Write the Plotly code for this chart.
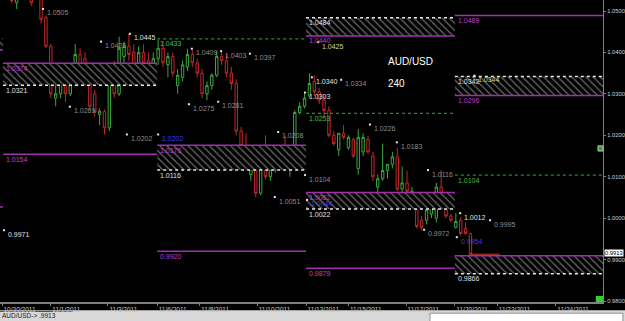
import plotly.graph_objects as go

# ---------------- data ----------------
opens = [1.0560, 1.0550, 1.0545, 1.0520, 1.0540, 1.0555, 1.0545, 1.0540, 1.0530, 1.0485,
         1.0415, 1.0290, 1.0300, 1.0330, 1.0300, 1.0335, 1.0395, 1.0385, 1.0330, 1.0300,
         1.0250, 1.0257, 1.0218, 1.0365, 1.0300, 1.0390, 1.0415, 1.0400, 1.0365, 1.0400,
         1.0380, 1.0350, 1.0385, 1.0410, 1.0370, 1.0390, 1.0320, 1.0340, 1.0365, 1.0395,
         1.0375, 1.0350, 1.0300, 1.0320, 1.0345, 1.0390, 1.0380, 1.0350, 1.0325, 1.0210,
         1.0165, 1.0105, 1.0130, 1.0060, 1.0150, 1.0100, 1.0118, 1.0140, 1.0155, 1.0125,
         1.0135, 1.0255, 1.0270, 1.0295, 1.0330, 1.0305, 1.0285, 1.0260, 1.0200, 1.0165,
         1.0205, 1.0170, 1.0190, 1.0120, 1.0160, 1.0190, 1.0150, 1.0075, 1.0095, 1.0115,
         1.0130, 1.0148, 1.0070, 1.0085, 1.0040, 1.0020, 0.9995, 0.9995, 1.0010, 1.0000,
         1.0075, 1.0025, 1.0005, 0.9978, 0.9995, 0.9975, 0.9963]
highs = [1.0575, 1.0565, 1.0555, 1.0550, 1.0565, 1.0570, 1.0550, 1.0548, 1.0535, 1.0490,
         1.0420, 1.0350, 1.0355, 1.0340, 1.0345, 1.0420, 1.0410, 1.0400, 1.0345, 1.0310,
         1.0265, 1.0262, 1.0365, 1.0380, 1.0438, 1.0426, 1.0445, 1.0420, 1.0415, 1.0420,
         1.0400, 1.0400, 1.0430, 1.0428, 1.0400, 1.0400, 1.0360, 1.0380, 1.0409, 1.0405,
         1.0385, 1.0360, 1.0330, 1.0350, 1.0403, 1.0400, 1.0395, 1.0365, 1.0335, 1.0220,
         1.0205, 1.0140, 1.0140, 1.0160, 1.0200, 1.0125, 1.0150, 1.0165, 1.0200, 1.0140,
         1.0260, 1.0280, 1.0300, 1.0350, 1.0345, 1.0315, 1.0295, 1.0270, 1.0210, 1.0205,
         1.0225, 1.0200, 1.0195, 1.0215, 1.0205, 1.0198, 1.0160, 1.0105, 1.0180, 1.0130,
         1.0160, 1.0170, 1.0125, 1.0115, 1.0075, 1.0025, 1.0005, 1.0030, 1.0045, 1.0085,
         1.0116, 1.0030, 1.0010, 1.0012, 1.0003, 0.9990, 0.9965]
lows = [1.0540, 1.0535, 1.0518, 1.0505, 1.0530, 1.0535, 1.0512, 1.0528, 1.0470, 1.0410,
        1.0290, 1.0270, 1.0290, 1.0280, 1.0295, 1.0320, 1.0330, 1.0320, 1.0260, 1.0245,
        1.0225, 1.0202, 1.0210, 1.0290, 1.0295, 1.0370, 1.0380, 1.0350, 1.0350, 1.0360,
        1.0330, 1.0340, 1.0370, 1.0365, 1.0340, 1.0340, 1.0300, 1.0330, 1.0355, 1.0365,
        1.0340, 1.0290, 1.0285, 1.0310, 1.0340, 1.0370, 1.0340, 1.0310, 1.0200, 1.0160,
        1.0118, 1.0090, 1.0050, 1.0055, 1.0095, 1.0090, 1.0110, 1.0130, 1.0115, 1.0100,
        1.0130, 1.0250, 1.0265, 1.0290, 1.0295, 1.0275, 1.0245, 1.0195, 1.0175, 1.0150,
        1.0190, 1.0165, 1.0145, 1.0105, 1.0150, 1.0155, 1.0090, 1.0060, 1.0090, 1.0095,
        1.0120, 1.0065, 1.0060, 1.0060, 1.0030, 0.9975, 0.9970, 0.9985, 1.0000, 0.9990,
        1.0020, 1.0000, 0.9990, 0.9975, 0.9958, 0.9960, 0.9910]
closes = [1.0550, 1.0545, 1.0525, 1.0540, 1.0555, 1.0545, 1.0520, 1.0532, 1.0480, 1.0415,
          1.0300, 1.0300, 1.0335, 1.0300, 1.0335, 1.0395, 1.0350, 1.0330, 1.0270, 1.0255,
          1.0258, 1.0218, 1.0358, 1.0300, 1.0410, 1.0415, 1.0395, 1.0365, 1.0400, 1.0375,
          1.0350, 1.0385, 1.0410, 1.0375, 1.0390, 1.0350, 1.0345, 1.0370, 1.0395, 1.0375,
          1.0350, 1.0300, 1.0320, 1.0345, 1.0390, 1.0380, 1.0350, 1.0325, 1.0210, 1.0175,
          1.0125, 1.0130, 1.0060, 1.0150, 1.0100, 1.0118, 1.0145, 1.0155, 1.0125, 1.0135,
          1.0255, 1.0270, 1.0290, 1.0325, 1.0305, 1.0285, 1.0260, 1.0200, 1.0180, 1.0205,
          1.0195, 1.0195, 1.0150, 1.0195, 1.0195, 1.0160, 1.0100, 1.0095, 1.0115, 1.0130,
          1.0148, 1.0070, 1.0085, 1.0065, 1.0065, 0.9980, 0.9978, 1.0020, 1.0045, 1.0075,
          1.0025, 1.0005, 0.9995, 0.9992, 0.9963, 0.9963, 0.9913]
bar_index = list(range(len(opens)))

# date ticks (bar index where each date label sits)
date_ticks = [0, 10, 21.7, 31.8, 40.5, 52.3, 62.3, 71, 82.8, 92.8, 101.5, 113.5]
date_labels = ["10/30/2011", "11/1/2011", "11/3/2011", "11/6/2011", "11/8/2011", "11/10/2011",
               "11/13/2011", "11/15/2011", "11/17/2011", "11/20/2011", "11/22/2011", "11/24/2011"]
price_ticks = [0.98, 0.99, 1.00, 1.01, 1.02, 1.03, 1.04, 1.05]

# weekly periods (bar index of period starts; last is open-ended)
week_bounds = [-1.0, 0.2, 31.8, 62.3, 92.8, 124.0]

# hatched zones
zone_week = [0, 1, 2, 3, 3, 4, 4]
zone_low = [1.0406, 1.0321, 1.0116, 1.0440, 1.0022, 1.0296, 0.9866]
zone_high = [1.0435, 1.0374, 1.0176, 1.0484, 1.0062, 1.0342, 0.9909]

# magenta levels
mag_week = [0, 0, 1, 1, 2, 2, 3, 3, 3, 4, 4, 4]
mag_level = [1.0406, 1.0027, 1.0374, 1.0154, 1.0176, 0.9920, 1.0440, 1.0062, 0.9879, 1.0489, 1.0296, 0.9909]
# white dashed levels
wht_week = [1, 2, 3, 3, 4, 4]
wht_level = [1.0321, 1.0116, 1.0484, 1.0022, 1.0342, 0.9866]
# green dotted levels
grn_week = [2, 3, 4]
grn_level = [1.0433, 1.0253, 1.0104]

# high/low marker labels
mk_x = [8.4, 20.3, 26.2, 38.9, 44.9, 50.8, 13.9, 25.6, 38.3, 44.3, 56.6, 55.9, 63.5, 62.1,
        62.1, 69.5, 75.4, 80.9, 87.3, 93.9, 100.0, 86.5, 0.4, 32.0, 62.5, 93.2, 64.8, 96.8]
mk_price = [1.0505, 1.0426, 1.0445, 1.0409, 1.0403, 1.0397, 1.0269, 1.0202, 1.0275, 1.0281,
            1.0208, 1.0051, 1.0340, 1.0303, 1.0104, 1.0334, 1.0226, 1.0183, 1.0116, 1.0012,
            0.9995, 0.9972, 0.9971, 1.0202, 1.0044, 0.9954, 1.0425, 1.0344]
mk_kind = ["g", "g", "w", "g", "g", "g", "g", "g", "g", "g", "g", "g", "w", "w",
           "g", "g", "g", "g", "g", "w", "g", "g", "w", "b", "b", "b", "y", "y"]

symbol = "AUD/USD"
timeframe = "240"
last_price = 0.9913

# ---------------- styling ----------------
GREEN = "#3aa83a"
RED = "#c02828"
MAG = "#a030b0"
MAG_T = "#c040cc"
WHITE_T = "#e0e0e0"
GRAY_T = "#8e8e8e"
GRN_L = "#2a8a2a"
GRN_T = "#40c040"
kind_color = {"g": GRAY_T, "w": WHITE_T, "b": "#3c3cff", "y": "#d8d878"}
FONT = "Liberation Sans"

fig = go.Figure()

# hatched zones
for w, lo, hi in zip(zone_week, zone_low, zone_high):
    x0, x1 = week_bounds[w], week_bounds[w + 1]
    fig.add_trace(go.Scatter(
        x=[x0, x1, x1, x0, x0], y=[lo, lo, hi, hi, lo], mode="lines",
        line=dict(width=0), fill="toself", fillcolor="black",
        fillpattern=dict(shape="\\", fgcolor="#c8c8c8", bgcolor="black", size=5, solidity=0.28),
        hoverinfo="skip", showlegend=False))


def level_trace(weeks, levels, color, dash, width):
    xs, ys = [], []
    for w, lv in zip(weeks, levels):
        xs += [week_bounds[w], week_bounds[w + 1], None]
        ys += [lv, lv, None]
    return go.Scatter(x=xs, y=ys, mode="lines", line=dict(color=color, width=width, dash=dash),
                      hoverinfo="skip", showlegend=False)


fig.add_trace(level_trace(grn_week, grn_level, GRN_L, "dot", 1.2))
fig.add_trace(level_trace(wht_week, wht_level, "#e8e8e8", "dot", 1.5))
fig.add_trace(level_trace(mag_week, mag_level, MAG, "solid", 1.5))

# candles
fig.add_trace(go.Candlestick(
    x=bar_index, open=opens, high=highs, low=lows, close=closes,
    increasing=dict(line=dict(color=GREEN, width=1), fillcolor="black"),
    decreasing=dict(line=dict(color=RED, width=1), fillcolor="black"),
    whiskerwidth=0, hoverinfo="skip", showlegend=False))

# current bid segment
fig.add_trace(go.Scatter(x=[bar_index[-1], bar_index[-1] + 6], y=[last_price, last_price],
                         mode="lines", line=dict(color="#e03030", width=1),
                         hoverinfo="skip", showlegend=False))

# marker dots
fig.add_trace(go.Scatter(x=mk_x, y=mk_price, mode="markers",
                         marker=dict(size=2, color="#e8e8e8", symbol="square"),
                         hoverinfo="skip", showlegend=False))

annotations = []
for x, p, k in zip(mk_x, mk_price, mk_kind):
    annotations.append(dict(x=x, y=p, text=f"{p:.4f}", showarrow=False, xanchor="left",
                            yanchor="middle", xshift=2, yshift=-4,
                            font=dict(family=FONT, size=7, color=kind_color[k])))


def level_labels(weeks, levels, color):
    for w, lv in zip(weeks, levels):
        if w == 0 or lv == 0.9909:
            continue
        annotations.append(dict(x=week_bounds[w], y=lv, text=f"{lv:.4f}", showarrow=False,
                                xanchor="left", yanchor="middle", xshift=1, yshift=-5,
                                font=dict(family=FONT, size=7, color=color)))


level_labels(mag_week, mag_level, MAG_T)
level_labels(wht_week, wht_level, WHITE_T)
level_labels(grn_week, grn_level, GRN_T)

annotations.append(dict(x=78.7, y=1.0378, text=symbol, showarrow=False, xanchor="left",
                        yanchor="middle", font=dict(family=FONT, size=10, color="white")))
annotations.append(dict(x=78.7, y=1.0325, text=timeframe, showarrow=False, xanchor="left",
                        yanchor="middle", font=dict(family=FONT, size=10, color="white")))
# price box on right axis
annotations.append(dict(xref="paper", x=1.0, y=last_price, text=f"{last_price:.4f}", showarrow=False,
                        xanchor="left", yanchor="middle", xshift=1, yshift=1, bgcolor="white",
                        borderpad=0, font=dict(family=FONT, size=5.8, color="black")))
# status bar text
annotations.append(dict(xref="paper", yref="paper", x=0.0, y=-0.046,
                        text=f"{symbol}-> .{str(last_price).split('.')[1]}", showarrow=False,
                        xanchor="left", yanchor="middle",
                        font=dict(family=FONT, size=6.5, color="#202020")))

shapes = [
    # status bar
    dict(type="rect", xref="paper", yref="paper", x0=0, x1=1.04, y0=-0.07, y1=-0.027,
         fillcolor="#d8d8d8", line=dict(width=0), layer="below"),
    dict(type="rect", xref="paper", yref="paper", x0=0.713, x1=1.033, y0=-0.07, y1=-0.037,
         fillcolor="white", line=dict(color="#909090", width=1), layer="below"),
    dict(type="line", xref="paper", yref="paper", x0=0, x1=0.121, y0=-0.031, y1=-0.031,
         line=dict(color="#404040", width=1), layer="below"),
    # small green boxes at right edge
    dict(type="rect", xref="paper", yref="paper", x0=0.9917, x1=1.0, y0=0.5, y1=0.517,
         fillcolor="#30a030", line=dict(color="#c0c0c0", width=1), layer="above"),
    dict(type="rect", xref="paper", yref="paper", x0=0.988, x1=1.0, y0=0.0, y1=0.02,
         fillcolor="#30d030", line=dict(width=0), layer="above"),
]

fig.update_layout(
    width=625, height=321, margin=dict(l=0, r=22, t=0, b=19),
    paper_bgcolor="black", plot_bgcolor="black",
    showlegend=False, annotations=annotations, shapes=shapes,
    font=dict(family=FONT, size=7, color="#d0d0d0"),
    xaxis=dict(range=[-0.41, 123.16], showgrid=False, zeroline=False, showline=True,
               linecolor="#808080", linewidth=2, ticks="outside", ticklen=2, tickcolor="#808080",
               tickvals=date_ticks, ticktext=date_labels, ticklabelposition="outside right",
               ticklabelstandoff=0,
               tickfont=dict(family=FONT, size=6.5, color="#c8c8c8"),
               rangeslider=dict(visible=False), fixedrange=True, automargin=False),
    yaxis=dict(range=[0.97976, 1.05266], side="right", showgrid=False, zeroline=False,
               showline=True, linecolor="#808080", linewidth=1, ticks="outside", ticklen=2,
               tickcolor="#808080", tickvals=price_ticks, tickformat=".4f",
               ticklabelstandoff=0,
               tickfont=dict(family=FONT, size=5.8, color="#d0d0d0"),
               fixedrange=True, automargin=False),
)

fig.write_html("out.html")
